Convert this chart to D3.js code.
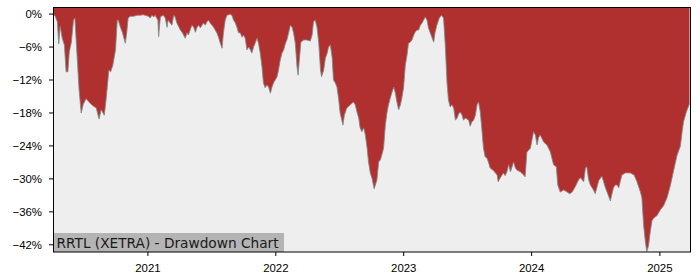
<!DOCTYPE html>
<meta charset="utf-8">
<style>

body{
  margin: 0;
  background: #fff;
}
svg {
  display: block;
  font-family: "DejaVu Sans", sans-serif;
}
.axis text {
  font-size: 11.4px;
  fill: #000;
}
.axis line {
  stroke: #000;
}

</style>
<svg width="700" height="280"></svg>
<script src="https://d3js.org/d3.v7.min.js"></script>
<script>

// drawdown in %, one small list per year
var dd2020 = [
  ["2020-04-08",0.0],["2020-04-10",-0.3],["2020-04-13",-0.5],["2020-04-19",-1.5],["2020-04-23",-5.5],
  ["2020-04-27",-2.3],["2020-05-03",-4.5],["2020-05-09",-5.7],["2020-05-14",-10.6],["2020-05-19",-10.6],
  ["2020-05-23",-7.0],["2020-05-29",-5.2],["2020-06-04",-1.2],["2020-06-08",-0.8],["2020-06-13",-6.3],
  ["2020-06-20",-13.9],["2020-06-26",-18.1],["2020-07-02",-16.5],["2020-07-10",-15.5],["2020-07-16",-15.9],
  ["2020-07-21",-16.3],["2020-07-30",-16.8],["2020-08-08",-17.2],["2020-08-16",-19.2],["2020-08-22",-17.5],
  ["2020-08-31",-18.5],["2020-09-05",-15.7],["2020-09-13",-10.3],["2020-09-18",-10.6],["2020-09-24",-9.5],
  ["2020-10-02",-6.6],["2020-10-07",-1.2],["2020-10-10",-1.2],["2020-10-16",-2.5],["2020-10-22",-3.5],
  ["2020-10-26",-4.5],["2020-10-30",-5.4],["2020-11-03",-3.5],["2020-11-07",-0.8],["2020-11-13",-0.5],
  ["2020-11-22",-0.5],["2020-12-03",-0.3],["2020-12-12",-0.3],["2020-12-20",-0.2]
];
var dd2021 = [
  ["2021-01-04",-0.5],["2021-01-09",-0.8],["2021-01-14",-0.3],["2021-01-19",-0.6],["2021-01-23",-0.3],
  ["2021-01-31",-1.2],["2021-02-02",-4.2],["2021-02-07",-0.6],["2021-02-15",-0.3],["2021-02-21",-0.8],
  ["2021-02-26",-2.5],["2021-03-01",-1.2],["2021-03-07",-1.7],["2021-03-12",-2.1],["2021-03-17",-0.3],
  ["2021-03-21",-0.6],["2021-03-26",-1.7],["2021-04-05",-3.0],["2021-04-10",-3.4],["2021-04-19",-4.5],
  ["2021-04-24",-3.5],["2021-04-28",-3.9],["2021-05-03",-3.0],["2021-05-08",-2.1],["2021-05-13",-2.5],
  ["2021-05-18",-3.4],["2021-05-22",-2.6],["2021-05-27",-2.1],["2021-06-01",-2.6],["2021-06-10",-1.7],
  ["2021-06-15",-2.1],["2021-06-20",-1.5],["2021-06-24",-1.2],["2021-06-29",-1.7],["2021-07-09",-2.5],
  ["2021-07-18",-3.5],["2021-07-23",-4.3],["2021-07-28",-5.4],["2021-08-02",-6.3],["2021-08-06",-3.5],
  ["2021-08-11",-1.2],["2021-08-16",-0.3],["2021-08-25",-0.1],["2021-08-30",-0.3],["2021-09-04",-1.2],
  ["2021-09-09",-1.7],["2021-09-14",-2.6],["2021-09-18",-3.5],["2021-09-23",-3.5],["2021-09-28",-4.3],
  ["2021-10-02",-3.9],["2021-10-07",-4.5],["2021-10-12",-6.6],["2021-10-17",-6.1],["2021-10-22",-6.6],
  ["2021-10-26",-7.2],["2021-10-31",-6.1],["2021-11-10",-4.5],["2021-11-14",-5.4],["2021-11-19",-7.2],
  ["2021-11-24",-9.7],["2021-11-28",-12.6],["2021-12-03",-13.5],["2021-12-08",-13.0],["2021-12-13",-13.4],
  ["2021-12-18",-14.5],["2021-12-22",-13.5],["2021-12-27",-12.6]
];
var dd2022 = [
  ["2022-01-06",-11.5],["2022-01-10",-10.3],["2022-01-15",-8.5],["2022-01-20",-7.2],["2022-01-25",-6.6],
  ["2022-01-30",-5.4],["2022-02-03",-4.8],["2022-02-08",-3.5],["2022-02-13",-2.1],["2022-02-18",-2.5],
  ["2022-02-22",-3.5],["2022-02-27",-5.4],["2022-03-04",-9.7],["2022-03-07",-11.2],["2022-03-11",-8.1],
  ["2022-03-15",-5.2],["2022-03-23",-4.8],["2022-04-01",-4.8],["2022-04-11",-5.0],["2022-04-16",-3.9],
  ["2022-04-20",-1.5],["2022-04-25",-1.2],["2022-04-30",-2.5],["2022-05-05",-5.4],["2022-05-10",-10.3],
  ["2022-05-13",-11.5],["2022-05-19",-10.3],["2022-05-24",-8.1],["2022-05-29",-7.2],["2022-06-02",-6.1],
  ["2022-06-07",-5.7],["2022-06-12",-7.9],["2022-06-16",-12.1],["2022-06-21",-12.6],["2022-06-26",-13.4],
  ["2022-07-01",-15.7],["2022-07-05",-18.1],["2022-07-13",-20.3],["2022-07-17",-18.5],["2022-07-24",-17.2],
  ["2022-08-03",-16.6],["2022-08-12",-16.1],["2022-08-17",-16.6],["2022-08-22",-17.9],["2022-08-27",-19.0],
  ["2022-08-31",-20.8],["2022-09-05",-21.5],["2022-09-10",-20.8],["2022-09-15",-22.1],["2022-09-20",-24.5],
  ["2022-09-24",-27.0],["2022-09-29",-29.0],["2022-10-04",-30.0],["2022-10-10",-31.9],["2022-10-18",-30.3],
  ["2022-10-23",-27.0],["2022-10-28",-26.6],["2022-11-01",-25.7],["2022-11-06",-24.5],["2022-11-11",-20.3],
  ["2022-11-16",-17.9],["2022-11-20",-16.6],["2022-11-25",-15.4],["2022-11-30",-14.3],["2022-12-05",-13.4],
  ["2022-12-09",-14.3],["2022-12-14",-16.1],["2022-12-19",-17.5],["2022-12-24",-16.6],["2022-12-28",-15.4]
];
var dd2023 = [
  ["2023-01-02",-13.5],["2023-01-07",-9.4],["2023-01-12",-7.5],["2023-01-16",-5.4],["2023-01-21",-5.2],
  ["2023-01-26",-4.8],["2023-01-31",-3.9],["2023-02-04",-3.4],["2023-02-09",-3.0],["2023-02-14",-3.0],
  ["2023-02-19",-2.1],["2023-02-24",-1.7],["2023-02-28",-1.2],["2023-03-05",-0.6],["2023-03-10",-1.2],
  ["2023-03-14",-2.6],["2023-03-19",-3.5],["2023-03-29",-5.2],["2023-04-02",-3.4],["2023-04-07",-2.1],
  ["2023-04-14",-0.8],["2023-04-20",-0.3],["2023-04-26",-0.8],["2023-05-01",-5.7],["2023-05-06",-12.6],
  ["2023-05-10",-15.7],["2023-05-15",-17.0],["2023-05-20",-16.6],["2023-05-25",-17.2],["2023-05-30",-19.4],
  ["2023-06-04",-19.0],["2023-06-08",-18.3],["2023-06-13",-17.9],["2023-06-18",-18.5],["2023-06-22",-19.4],
  ["2023-06-27",-19.0],["2023-07-02",-19.2],["2023-07-07",-19.4],["2023-07-11",-20.5],["2023-07-16",-19.7],
  ["2023-07-21",-19.4],["2023-07-26",-18.5],["2023-07-31",-16.5],["2023-08-04",-16.1],["2023-08-09",-17.9],
  ["2023-08-14",-21.5],["2023-08-18",-24.5],["2023-08-23",-26.1],["2023-08-28",-26.3],["2023-09-02",-27.2],
  ["2023-09-06",-28.1],["2023-09-16",-28.6],["2023-09-26",-29.4],["2023-09-29",-30.6],["2023-10-05",-29.9],
  ["2023-10-10",-29.4],["2023-10-14",-29.0],["2023-10-19",-29.5],["2023-10-24",-28.8],["2023-10-29",-27.5],
  ["2023-11-03",-28.8],["2023-11-12",-27.0],["2023-11-17",-28.1],["2023-11-22",-28.5],["2023-12-01",-28.8],
  ["2023-12-11",-29.4],["2023-12-15",-29.7],["2023-12-20",-25.2],["2023-12-30",-24.5]
];
var dd2024 = [
  ["2024-01-08",-21.5],["2024-01-13",-22.1],["2024-01-18",-23.9],["2024-01-22",-22.6],["2024-01-27",-22.1],
  ["2024-02-06",-23.4],["2024-02-15",-23.9],["2024-02-25",-25.2],["2024-03-05",-27.5],["2024-03-13",-27.9],
  ["2024-03-17",-31.2],["2024-03-24",-32.5],["2024-04-03",-32.1],["2024-04-13",-32.5],["2024-04-20",-32.8],
  ["2024-04-27",-32.5],["2024-05-06",-31.5],["2024-05-16",-30.2],["2024-05-21",-29.9],["2024-05-30",-30.6],
  ["2024-06-04",-28.1],["2024-06-08",-27.9],["2024-06-13",-30.2],["2024-06-18",-31.2],["2024-06-27",-32.1],
  ["2024-07-02",-32.8],["2024-07-12",-30.4],["2024-07-21",-29.6],["2024-07-31",-31.7],["2024-08-09",-33.2],
  ["2024-08-14",-34.1],["2024-08-23",-31.7],["2024-08-28",-31.2],["2024-09-02",-31.2],["2024-09-07",-31.7],
  ["2024-09-16",-29.4],["2024-09-26",-29.0],["2024-10-10",-29.0],["2024-10-21",-29.4],["2024-10-29",-30.6],
  ["2024-11-08",-32.5],["2024-11-12",-33.5],["2024-11-17",-38.5],["2024-11-22",-41.5],["2024-11-26",-43.3],
  ["2024-12-01",-42.3],["2024-12-06",-39.7],["2024-12-11",-37.7],["2024-12-16",-37.2],["2024-12-25",-36.8]
];
var dd2025 = [
  ["2025-01-04",-35.7],["2025-01-13",-35.0],["2025-01-23",-33.5],["2025-02-01",-31.4],["2025-02-11",-28.5],
  ["2025-02-20",-25.9],["2025-03-02",-24.1],["2025-03-07",-21.5],["2025-03-11",-19.7],["2025-03-19",-17.9],
  ["2025-03-28",-16.4]
];

var yTicks = [0, -6, -12, -18, -24, -30, -36, -42];
var xTickYears = [2021, 2022, 2023, 2024, 2025];
var yDomain = [-43.4, 1.2];
var chartTitle = "RRTL (XETRA) - Drawdown Chart";

var svg = d3.select("svg");

var parse = d3.timeParse("%Y-%m-%d");
var data = dd2020.concat(dd2021, dd2022, dd2023, dd2024, dd2025).map(function(d) {
  return { date: parse(d[0]), value: d[1] };
});

var x = d3.scaleTime()
    .domain(d3.extent(data, function(d) { return d.date; }))
    .range([53.5, 689.5]);

var y = d3.scaleLinear()
    .domain(yDomain)
    .range([252, 7]);

// plot background
svg.append("rect")
    .attr("x", 53).attr("y", 7)
    .attr("width", 637.5).attr("height", 245)
    .attr("fill", "#eeeeee");

var area = d3.area()
    .x(function(d) { return x(d.date); })
    .y0(y(yDomain[1]))
    .y1(function(d) { return y(d.value); });

var line = d3.line()
    .x(function(d) { return x(d.date); })
    .y(function(d) { return y(d.value); });

svg.append("path")
    .datum(data)
    .attr("d", area)
    .attr("fill", "#b03030");

svg.append("path")
    .datum(data)
    .attr("d", line)
    .attr("fill", "none")
    .attr("stroke", "#7d8b8b")
    .attr("stroke-width", 1)
    .attr("stroke-opacity", 0.85);

// title box bottom left
svg.append("rect")
    .attr("x", 53.5).attr("y", 233)
    .attr("width", 230.5).attr("height", 19)
    .attr("fill", "#b4b4b4");

svg.append("text")
    .attr("x", 56.5).attr("y", 247.5)
    .attr("font-size", "13.7px")
    .attr("fill", "#1a1a1a")
    .text(chartTitle);

// axes
var xAxis = d3.axisBottom(x)
    .tickValues(xTickYears.map(function(yr) { return new Date(yr, 0, 1); }))
    .tickFormat(d3.timeFormat("%Y"))
    .tickSize(4);

var gx = svg.append("g")
    .attr("class", "axis")
    .attr("transform", "translate(0,252)")
    .call(xAxis);
gx.select(".domain").remove();
gx.selectAll("text").attr("y", 19.5).attr("dy", 0);

var yAxis = d3.axisLeft(y)
    .tickValues(yTicks)
    .tickFormat(function(v) { return v === 0 ? "0%" : "\u2212" + Math.abs(v) + "%"; })
    .tickSize(4);

var gy = svg.append("g")
    .attr("class", "axis")
    .attr("transform", "translate(53,0)")
    .call(yAxis);
gy.select(".domain").remove();
gy.selectAll("text").attr("x", -11).attr("dy", "0.34em");

// frame
svg.append("rect")
    .attr("x", 53.5).attr("y", 7.5)
    .attr("width", 637).attr("height", 244.5)
    .attr("fill", "none")
    .attr("stroke", "#000")
    .attr("stroke-width", 1);

</script>
